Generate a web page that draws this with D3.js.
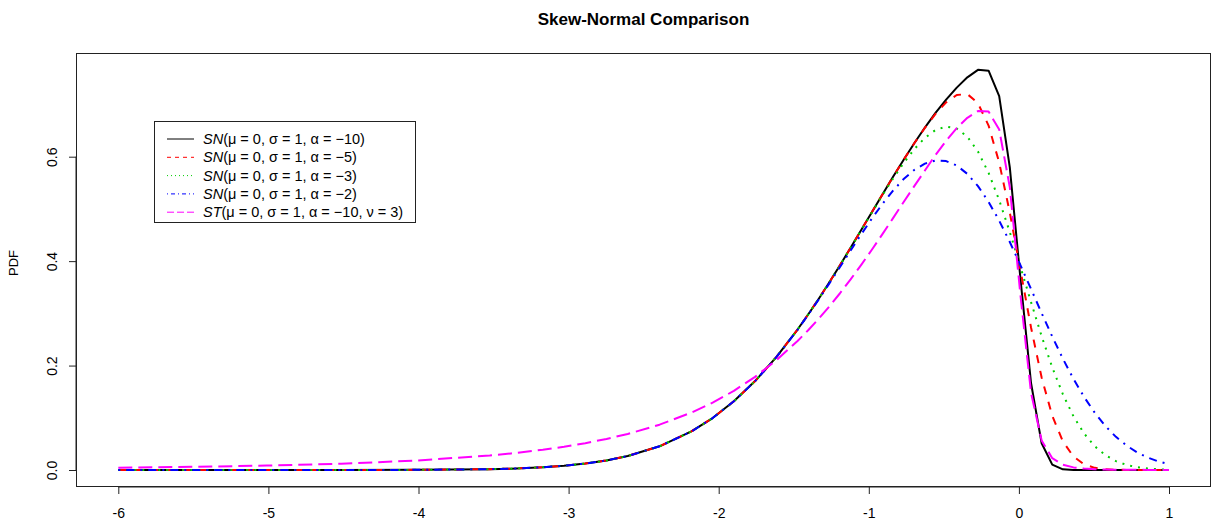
<!DOCTYPE html>
<html>
<head>
<meta charset="utf-8">
<script src="https://cdn.jsdelivr.net/npm/d3@7/dist/d3.min.js"></script>
<style>
  html, body { margin: 0; padding: 0; background: #fff; }
  svg { display: block; }
  text { font-family: "Liberation Sans", Arial, sans-serif; fill: #000; }
</style>
</head>
<body>
<svg id="chart" width="1211" height="522"></svg>
<script>
// ---- data ----
const xs = [-6, -5.5051, -5.0101, -4.5152, -4.0202, -3.5253, -3.3838, -3.1717, -3.0303, -2.8889,
  -2.7475, -2.6061, -2.3939, -2.1818, -2.0404, -1.8990, -1.7576, -1.6162, -1.4747,
  -1.4040, -1.3333, -1.2626, -1.1919, -1.1212, -1.0505, -0.9798, -0.9091, -0.8384, -0.7677,
  -0.6970, -0.6263, -0.5556, -0.4848, -0.4141, -0.3434, -0.2727, -0.2020, -0.1313, -0.0606,
  0.0101, 0.0808, 0.1515, 0.2222, 0.2929, 0.3636, 0.4343, 0.5051, 0.5758, 0.6465,
  0.7172, 0.7879, 0.8586, 0.9293, 1.0];

const snAlpha10 = [0, 0, 0.0000028, 0.00003, 0.00025, 0.0016, 0.0026, 0.0052, 0.0081, 0.0123,
  0.0183, 0.0267, 0.0454, 0.0738, 0.0995, 0.1315, 0.1703, 0.2162, 0.2690,
  0.2978, 0.3280, 0.3596, 0.3922, 0.4256, 0.4595, 0.4937, 0.5278, 0.5615, 0.5943,
  0.6258, 0.6558, 0.6838, 0.7094, 0.7323, 0.7520, 0.7663, 0.7648, 0.7162, 0.5796,
  0.3668, 0.1666, 0.0511, 0.0102, 0.0013, 0.0001, 0, 0, 0, 0,
  0, 0, 0, 0, 0];

const snAlpha5 = [0, 0, 0.0000028, 0.00003, 0.00025, 0.0016, 0.0026, 0.0052, 0.0081, 0.0123,
  0.0183, 0.0267, 0.0454, 0.0738, 0.0995, 0.1315, 0.1703, 0.2162, 0.2690,
  0.2978, 0.3280, 0.3596, 0.3922, 0.4256, 0.4595, 0.4937, 0.5278, 0.5614, 0.5942,
  0.6257, 0.6552, 0.6819, 0.7040, 0.7182, 0.7199, 0.7024, 0.6596, 0.5888, 0.4930,
  0.3829, 0.2729, 0.1770, 0.1037, 0.0547, 0.0258, 0.0108, 0.0041, 0.0014, 0.0004,
  0.0001, 0, 0, 0, 0];

const snAlpha3 = [0, 0, 0.0000028, 0.00003, 0.00025, 0.0016, 0.0026, 0.0052, 0.0081, 0.0123,
  0.0183, 0.0267, 0.0454, 0.0738, 0.0995, 0.1315, 0.1703, 0.2162, 0.2690,
  0.2978, 0.3280, 0.3596, 0.3921, 0.4254, 0.4592, 0.4929, 0.5262, 0.5581, 0.5879,
  0.6144, 0.6361, 0.6511, 0.6577, 0.6539, 0.6383, 0.6099, 0.5690, 0.5167, 0.4557,
  0.3893, 0.3215, 0.2561, 0.1965, 0.1451, 0.1028, 0.0699, 0.0455, 0.0284, 0.0170,
  0.0097, 0.0053, 0.0028, 0.0014, 0.0007];

const snAlpha2 = [0, 0, 0.0000028, 0.00003, 0.00025, 0.0016, 0.0026, 0.0052, 0.0081, 0.0123,
  0.0183, 0.0267, 0.0454, 0.0738, 0.0995, 0.1315, 0.1702, 0.2160, 0.2685,
  0.2971, 0.3268, 0.3575, 0.3888, 0.4203, 0.4514, 0.4814, 0.5096, 0.5352, 0.5572,
  0.5747, 0.5868, 0.5927, 0.5916, 0.5831, 0.5671, 0.5437, 0.5135, 0.4775, 0.4366,
  0.3925, 0.3466, 0.3005, 0.2556, 0.2132, 0.1744, 0.1398, 0.1097, 0.0843, 0.0635,
  0.0467, 0.0337, 0.0237, 0.0163, 0.0110];

const stAlpha10Nu3 = [0.0044, 0.0060, 0.0084, 0.0121, 0.0180, 0.0278, 0.0317, 0.0388, 0.0446, 0.0514,
  0.0595, 0.0690, 0.0868, 0.1099, 0.1289, 0.1516, 0.1784, 0.2101, 0.2471,
  0.2677, 0.2898, 0.3134, 0.3385, 0.3650, 0.3928, 0.4218, 0.4517, 0.4823, 0.5132,
  0.5436, 0.5736, 0.6033, 0.6303, 0.6546, 0.6745, 0.6874, 0.6864, 0.6522, 0.5416,
  0.3355, 0.1479, 0.0566, 0.0226, 0.0101, 0.0050, 0.0027, 0.0016, 0.0010, 0.0006,
  0.0004, 0.0003, 0.0002, 0.0002, 0.0001];

const seriesNames = ["SN", "SN", "SN", "SN", "ST"];
const seriesParams = ["(μ = 0, σ = 1, α = −10)", "(μ = 0, σ = 1, α = −5)",
  "(μ = 0, σ = 1, α = −3)", "(μ = 0, σ = 1, α = −2)", "(μ = 0, σ = 1, α = −10, ν = 3)"];
const seriesColors = ["#000000", "#FF0000", "#00CD00", "#0000FF", "#FF00FF"];
const xTicks = [-6, -5, -4, -3, -2, -1, 0, 1];
const yTicks = [0, 0.2, 0.4, 0.6];
const titleText = "Skew-Normal Comparison";
const yLabel = "PDF";

// ---- drawing ----
const allSeries = [snAlpha10, snAlpha5, snAlpha3, snAlpha2, stAlpha10Nu3];
const plotDash = [null, "8 8", "2 6", "2 6 8 6", "14 6"];
const legendDash = [null, "4 4", "1 3", "1 3 4 3", "7 3"];

const svg = d3.select("#chart");
const x = d3.scaleLinear().domain([-6, 1]).range([118.3, 1169.0]);
const y = d3.scaleLinear().domain([0, 0.6]).range([470, 156.7]);

const box = { left: 76.5, right: 1210.5, top: 53.5, bottom: 486.5 };

// curves
const line = d3.line().x((d, i) => x(xs[i])).y(d => y(d));
allSeries.forEach((s, i) => {
  svg.append("path")
    .attr("d", line(s))
    .attr("fill", "none")
    .attr("stroke", seriesColors[i])
    .attr("stroke-width", 2)
    .attr("stroke-linejoin", "round")
    .attr("stroke-dasharray", plotDash[i]);
});

// box
svg.append("rect")
  .attr("x", box.left).attr("y", box.top)
  .attr("width", box.right - box.left).attr("height", box.bottom - box.top)
  .attr("fill", "none").attr("stroke", "#222").attr("stroke-width", 1);

// x axis (R style: ticks below box)
const xAxis = d3.axisBottom(x).tickValues(xTicks).tickSize(7).tickPadding(14)
  .tickFormat(d => String(d));
const gx = svg.append("g").attr("transform", `translate(0,${box.bottom + 0.5})`).call(xAxis);
gx.select(".domain").attr("d", `M${x(-6)},0H${x(1)}`).attr("stroke", "#222");
gx.selectAll(".tick line").attr("stroke", "#222");
gx.selectAll(".tick text").attr("font-size", 14).attr("font-family", "Liberation Sans, Arial, sans-serif").attr("fill", "#000");

// y axis
const yAxis = d3.axisLeft(y).tickValues(yTicks).tickSize(7).tickFormat(d3.format(".1f"));
const gy = svg.append("g").attr("transform", `translate(${box.left - 0.5},0)`).call(yAxis);
gy.select(".domain").attr("d", `M0,${y(0)}V${y(0.6)}`).attr("stroke", "#222");
gy.selectAll(".tick line").attr("stroke", "#222");
gy.selectAll(".tick text")
  .attr("font-size", 14).attr("font-family", "Liberation Sans, Arial, sans-serif").attr("fill", "#000")
  .attr("x", null).attr("dy", null)
  .attr("text-anchor", "middle")
  .attr("transform", "translate(-19,0) rotate(-90)");

// title
svg.append("text")
  .attr("x", (box.left + box.right) / 2).attr("y", 25)
  .attr("text-anchor", "middle").attr("font-weight", "bold").attr("font-size", 17)
  .text(titleText);

// y label
svg.append("text")
  .attr("transform", `translate(17.5,${(y(0) + y(0.6)) / 2 + 0}) rotate(-90)`)
  .attr("transform", `translate(17.5,263) rotate(-90)`)
  .attr("text-anchor", "middle").attr("font-size", 13)
  .text(yLabel);

// legend
const lg = svg.append("g");
lg.append("rect").attr("x", 154.5).attr("y", 121.5).attr("width", 261).attr("height", 101)
  .attr("fill", "#fff").attr("stroke", "#222").attr("stroke-width", 1);
seriesNames.forEach((nm, i) => {
  const cy = 139 + i * 18.3;
  lg.append("line").attr("x1", 167).attr("x2", 194).attr("y1", cy).attr("y2", cy)
    .attr("stroke", seriesColors[i]).attr("stroke-width", 1)
    .attr("stroke-dasharray", legendDash[i]);
  const t = lg.append("text").attr("x", 203).attr("y", cy + 5).attr("font-size", 14.5);
  t.append("tspan").attr("font-style", "italic").text(nm);
  t.append("tspan").text(seriesParams[i]);
});
</script>
</body>
</html>
